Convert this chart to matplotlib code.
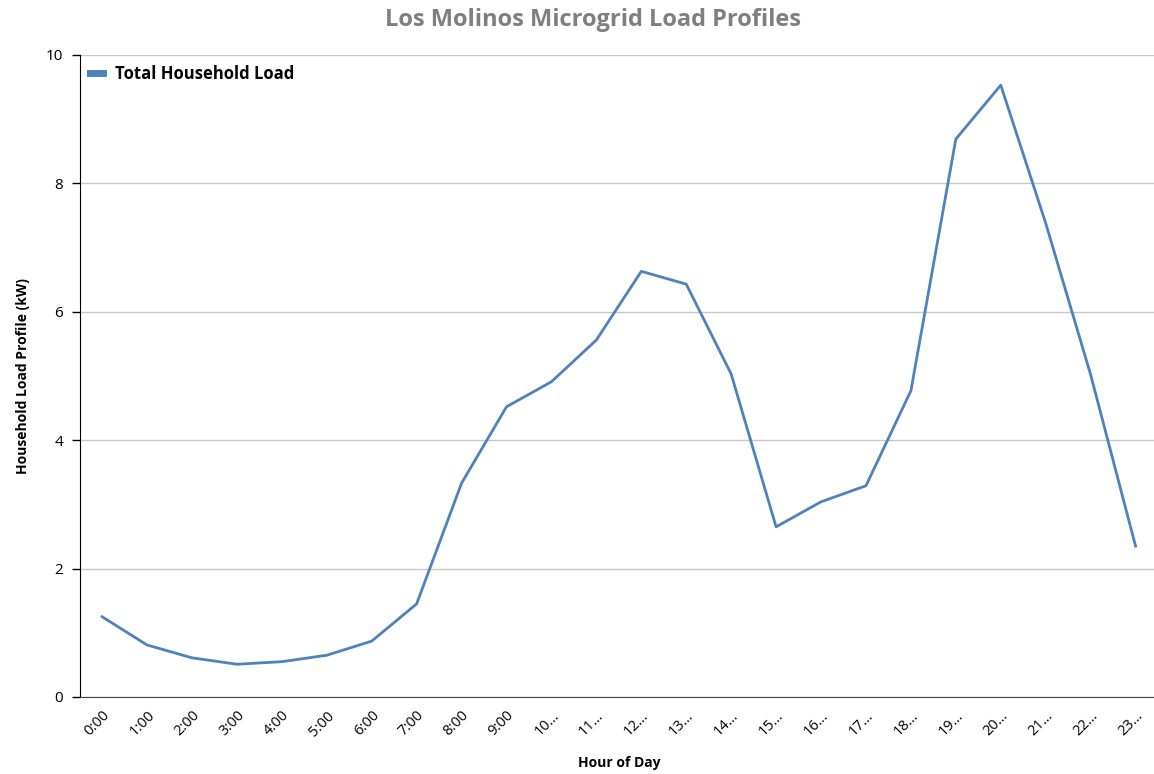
import matplotlib
matplotlib.use("Agg")
import matplotlib.pyplot as plt

hours = ["0:00", "1:00", "2:00", "3:00", "4:00", "5:00", "6:00", "7:00",
         "8:00", "9:00", "10…", "11…", "12…", "13…", "14…", "15…",
         "16…", "17…", "18…", "19…", "20…", "21…", "22…", "23…"]
load_kw = [1.25, 0.81, 0.61, 0.51, 0.55, 0.65, 0.87, 1.45,
           3.33, 4.52, 4.91, 5.56, 6.63, 6.43, 5.03, 2.65,
           3.04, 3.29, 4.77, 8.69, 9.53, 7.38, 5.02, 2.35]

plt.rcParams["font.family"] = ["Open Sans", "DejaVu Sans"]

fig = plt.figure(figsize=(11.54, 7.74), dpi=100)
ax = fig.add_axes([0.0690, 0.0995, 0.9345, 0.8295])

x = list(range(len(hours)))
ax.plot(x, load_kw, color="#4F81BD", lw=2.0, label="Total Household Load")

ax.set_xlim(-0.5, len(hours) - 0.5)
ax.set_ylim(0, 10)
ax.set_yticks([0, 2, 4, 6, 8, 10])
ax.set_xticks(x)
ax.set_xticklabels(hours, rotation=45, ha="right", rotation_mode="anchor", fontsize=10.5)
ax.tick_params(axis="y", labelsize=11, length=6, width=1, pad=6)
ax.tick_params(axis="x", length=0, pad=8)

ax.grid(axis="y", color="#c8c8c8", lw=1)
ax.set_axisbelow(True)
for s in ["top", "right"]:
    ax.spines[s].set_visible(False)
ax.spines["left"].set_color("black")
ax.spines["bottom"].set_color("#444444")

ax.set_ylabel("Household Load Profile (kW)", fontsize=10, fontweight="bold", labelpad=11)
ax.set_xlabel("Hour of Day", fontsize=10, fontweight="bold", labelpad=12)
fig.suptitle("Los Molinos Microgrid Load Profiles", x=0.514, y=0.99,
             fontsize=17, fontweight="bold", color="#7f7f7f")

leg = ax.legend(loc="upper left", frameon=False, handlelength=0.8, handletextpad=0.7,
                prop={"weight": "bold", "size": 12}, borderaxespad=0.2)
for h in leg.get_lines():
    h.set_linewidth(5)

fig.savefig("out.png", dpi=100)
